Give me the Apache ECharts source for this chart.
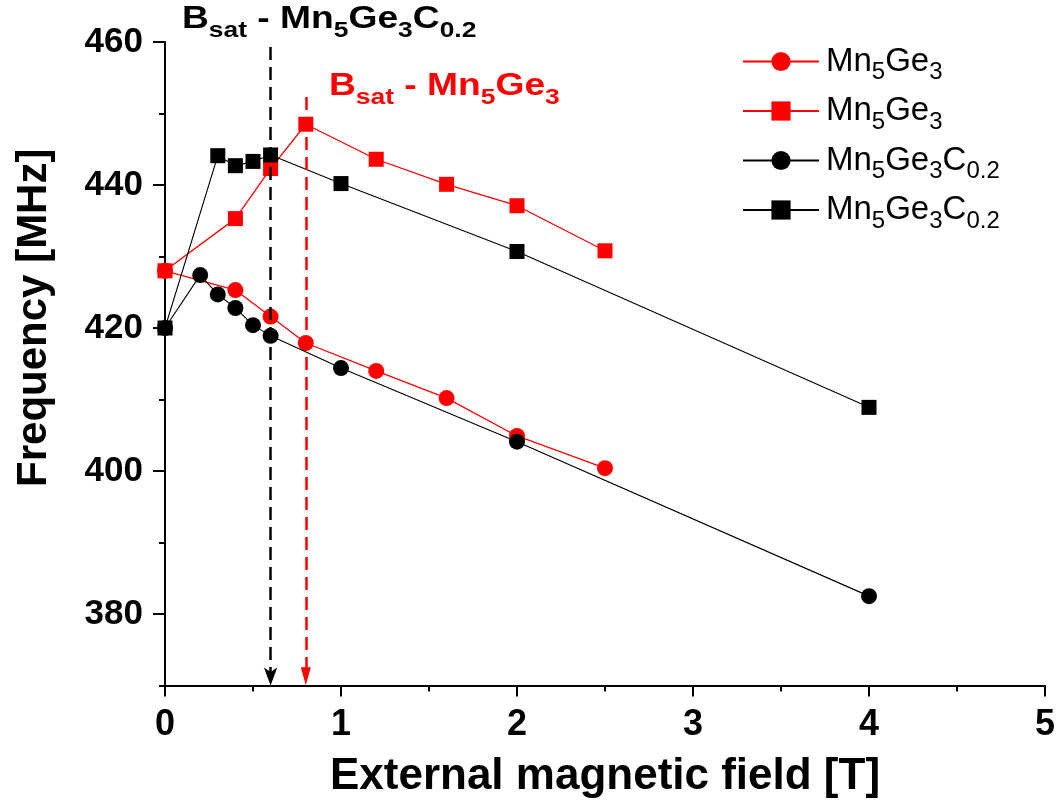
<!DOCTYPE html>
<html>
<head>
<meta charset="utf-8">
<script src="https://cdn.jsdelivr.net/npm/echarts@6/dist/echarts.min.js"></script>
<style>html,body{margin:0;padding:0;background:#fff}#c{width:1063px;height:805px}</style>
</head>
<body>
<div id="c"></div>
<script>
// Data
const fieldMn5Ge3 = [0, 0.4, 0.6, 0.8, 1.2, 1.6, 2.0, 2.5];
const freqMn5Ge3Circle = [428.0, 425.3, 421.6, 417.9, 414.0, 410.2, 404.9, 400.4];
const freqMn5Ge3Square = [428.0, 435.3, 442.3, 448.5, 443.6, 440.1, 437.1, 430.8];
const fieldCCircle = [0, 0.2, 0.3, 0.4, 0.5, 0.6, 1.0, 2.0, 4.0];
const freqCCircle = [420.0, 427.4, 424.7, 422.8, 420.4, 418.9, 414.4, 404.1, 382.5];
const fieldCSquare = [0, 0.3, 0.4, 0.5, 0.6, 1.0, 2.0, 4.0];
const freqCSquare = [420.0, 444.1, 442.7, 443.3, 444.2, 440.2, 430.7, 408.9];
const yMajorTicks = [380, 400, 420, 440, 460];
const yMinorTicks = [370, 390, 410, 430, 450];
const bsatC = 0.6;
const bsatMn = 0.8;

const zip = (xs, ys) => xs.map((x, i) => [x, ys[i]]);
const FONT = 'Liberation Sans, Arial, sans-serif';

const legendRich = {
  m: {fontSize: 33, fontFamily: FONT, color: '#000'},
  s: {fontSize: 24, fontFamily: FONT, color: '#000', padding: [22, 0, 0, 0]}
};
const legendNames = {
  'Mn5Ge3 circle': '{m|Mn}{s|5}{m|Ge}{s|3}',
  'Mn5Ge3 square': '{m|Mn}{s|5}{m|Ge}{s|3}',
  'Mn5Ge3C0.2 circle': '{m|Mn}{s|5}{m|Ge}{s|3}{m|C}{s|0.2}',
  'Mn5Ge3C0.2 square': '{m|Mn}{s|5}{m|Ge}{s|3}{m|C}{s|0.2}'
};

const chart = echarts.init(document.getElementById('c'), null, {renderer: 'canvas'});

const axisLineStyle = {color: '#000', width: 2};
const dash = [13, 7];

const option = {
  animation: false,
  backgroundColor: '#fff',
  grid: {left: 165, right: 18, top: 42, bottom: 119.5, containLabel: false, outerBoundsMode: 'none'},
  legend: {
    orient: 'vertical',
    left: 742,
    top: 45,
    itemWidth: 76,
    itemHeight: 24,
    itemGap: 10,
    padding: 0,
    data: ['Mn5Ge3 circle', 'Mn5Ge3 square', 'Mn5Ge3C0.2 circle', 'Mn5Ge3C0.2 square'],
    formatter: name => legendNames[name],
    textStyle: {rich: legendRich, padding: [0, 0, 0, 2]}
  },
  xAxis: {
    type: 'value',
    min: 0, max: 5, interval: 1,
    name: 'External magnetic field [T]',
    nameLocation: 'middle',
    nameGap: 69,
    nameTextStyle: {fontSize: 44, fontWeight: 'bold', fontFamily: FONT, color: '#000'},
    axisLine: {show: true, onZero: false, lineStyle: axisLineStyle},
    axisTick: {show: true, inside: false, length: 11, lineStyle: {color: '#000', width: 2}},
    minorTick: {show: true, splitNumber: 2, length: 6, lineStyle: {color: '#000', width: 2}},
    splitLine: {show: false},
    minorSplitLine: {show: false},
    axisLabel: {fontSize: 36, fontWeight: 'bold', fontFamily: FONT, color: '#000', margin: 22}
  },
  yAxis: [{
    type: 'value',
    min: 370, max: 460,
    name: 'Frequency [MHz]',
    nameLocation: 'middle',
    nameGap: 110,
    nameRotate: 90,
    nameTextStyle: {fontSize: 42, fontWeight: 'bold', fontFamily: FONT, color: '#000', padding: [0, 0, 0, 92]},
    axisLine: {show: true, onZero: false, lineStyle: axisLineStyle},
    axisTick: {show: true, inside: false, length: 12, customValues: yMajorTicks, lineStyle: {color: '#000', width: 2}},
    splitLine: {show: false},
    axisLabel: {fontSize: 35, fontWeight: 'bold', fontFamily: FONT, color: '#000', margin: 22, customValues: yMajorTicks}
  }, {
    type: 'value',
    min: 370, max: 460,
    position: 'left',
    offset: 0,
    axisLine: {show: false},
    axisTick: {show: true, inside: false, length: 6, customValues: yMinorTicks, lineStyle: {color: '#000', width: 2}},
    splitLine: {show: false},
    axisLabel: {show: false}
  }],
  series: [
    {
      name: 'Mn5Ge3 circle', type: 'line', yAxisIndex: 0,
      data: zip(fieldMn5Ge3, freqMn5Ge3Circle),
      symbol: 'circle', symbolSize: 16,
      itemStyle: {color: '#ff0000'},
      lineStyle: {color: '#ff0000', width: 1.3},
      z: 2
    },
    {
      name: 'Mn5Ge3 square', type: 'line', yAxisIndex: 0,
      data: zip(fieldMn5Ge3, freqMn5Ge3Square),
      symbol: 'rect', symbolSize: 15,
      itemStyle: {color: '#ff0000'},
      lineStyle: {color: '#ff0000', width: 1.3},
      z: 2,
      markLine: {
        silent: true, animation: false,
        symbol: ['none', 'triangle'], symbolSize: [10, 18],
        label: {show: false},
        lineStyle: {color: '#ff0000', type: dash, width: 2.5},
        data: [[{coord: [bsatMn, 452.3]}, {coord: [bsatMn, 371.3]}]]
      }
    },
    {
      name: 'Mn5Ge3C0.2 circle', type: 'line', yAxisIndex: 0,
      data: zip(fieldCCircle, freqCCircle),
      symbol: 'circle', symbolSize: 16,
      itemStyle: {color: '#000'},
      lineStyle: {color: '#000', width: 1.1},
      z: 3,
      markLine: {
        silent: true, animation: false,
        symbol: ['none', 'arrow'], symbolSize: [10, 18],
        label: {show: false},
        lineStyle: {color: '#000', type: dash, width: 2.5},
        data: [[{coord: [bsatC, 459.3]}, {coord: [bsatC, 370]}]]
      }
    },
    {
      name: 'Mn5Ge3C0.2 square', type: 'line', yAxisIndex: 0,
      data: zip(fieldCSquare, freqCSquare),
      symbol: 'rect', symbolSize: 15,
      itemStyle: {color: '#000'},
      lineStyle: {color: '#000', width: 1.1},
      z: 3
    }
  ],
  graphic: [
    {
      type: 'text', left: 182, top: 4, z: 10, scaleX: 1.2,
      style: {
        text: '{b|B}{s|sat}{b| - Mn}{s|5}{b|Ge}{s|3}{b|C}{s|0.2}',
        rich: {
          b: {fontSize: 31, fontWeight: 'bold', fontFamily: FONT, fill: '#000', color: '#000'},
          s: {fontSize: 22, fontWeight: 'bold', fontFamily: FONT, fill: '#000', color: '#000', padding: [22, 0, 0, 0]}
        }
      }
    },
    {
      type: 'text', left: 329, top: 71, z: 10, scaleX: 1.2,
      style: {
        text: '{b|B}{s|sat}{b| - Mn}{s|5}{b|Ge}{s|3}',
        rich: {
          b: {fontSize: 31, fontWeight: 'bold', fontFamily: FONT, fill: '#ff0000', color: '#ff0000'},
          s: {fontSize: 22, fontWeight: 'bold', fontFamily: FONT, fill: '#ff0000', color: '#ff0000', padding: [22, 0, 0, 0]}
        }
      }
    }
  ]
};
chart.setOption(option);
</script>
</body>
</html>
